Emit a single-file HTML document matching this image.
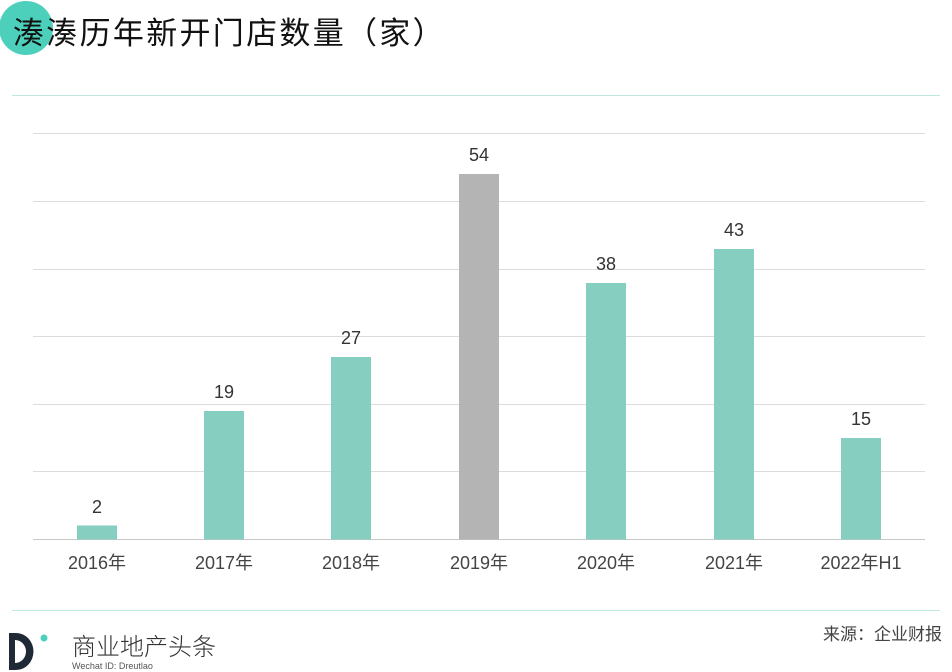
<!DOCTYPE html>
<html><head><meta charset="utf-8"><style>
body{margin:0;width:952px;height:672px;background:#fff;position:relative;overflow:hidden;font-family:"Liberation Sans","Noto Sans CJK SC",sans-serif}
.a{position:absolute}
</style></head><body>
<div class="a" style="left:-1px;top:1px;width:54px;height:54px;border-radius:50%;background:#4dd0bb"></div>
<div class="a" style="left:13px;top:8px;font-size:31px;color:#111;letter-spacing:2.3px;white-space:nowrap">湊湊历年新开门店数量（家）</div>
<div class="a" style="left:12px;top:95px;width:928px;height:1px;background:#bfe9e0"></div>
<div class="a" style="left:12px;top:610px;width:928px;height:1px;background:#bfe9e0"></div>
<svg class="a" style="left:0;top:0" width="952" height="672">
<g stroke="#dcdcdc" stroke-width="1">
<line x1="33" x2="925" y1="133.5" y2="133.5"/><line x1="33" x2="925" y1="201.5" y2="201.5"/>
<line x1="33" x2="925" y1="269.5" y2="269.5"/><line x1="33" x2="925" y1="336.5" y2="336.5"/>
<line x1="33" x2="925" y1="404.5" y2="404.5"/><line x1="33" x2="925" y1="471.5" y2="471.5"/>
<line x1="33" x2="925" y1="539.5" y2="539.5" stroke="#c8c8c8"/>
</g>
<g font-family="Liberation Sans,Noto Sans CJK SC,sans-serif" font-size="18" fill="#333" text-anchor="middle">
<rect x="77" y="525.5" width="40" height="14" fill="#86cfc0"/><text x="97" y="513">2</text><text x="97" y="569" fill="#444">2016年</text>
<rect x="204" y="411" width="40" height="128.5" fill="#86cfc0"/><text x="224" y="398">19</text><text x="224" y="569" fill="#444">2017年</text>
<rect x="331" y="357" width="40" height="182.5" fill="#86cfc0"/><text x="351" y="344">27</text><text x="351" y="569" fill="#444">2018年</text>
<rect x="459" y="174" width="40" height="365.5" fill="#b4b4b4"/><text x="479" y="161">54</text><text x="479" y="569" fill="#444">2019年</text>
<rect x="586" y="283" width="40" height="256.5" fill="#86cfc0"/><text x="606" y="270">38</text><text x="606" y="569" fill="#444">2020年</text>
<rect x="714" y="249" width="40" height="290.5" fill="#86cfc0"/><text x="734" y="236">43</text><text x="734" y="569" fill="#444">2021年</text>
<rect x="841" y="438" width="40" height="101.5" fill="#86cfc0"/><text x="861" y="425">15</text><text x="861" y="569" fill="#444">2022年H1</text>
</g>
<path d="M9 633 h7 a17 18 0 0 1 0 37 h-7 z M15 640 v23 a11 11.5 0 0 0 0 -23 z" fill="#1f2a36" fill-rule="evenodd"/>
<circle cx="44" cy="638" r="3.5" fill="#4dd0bb"/>
<text x="72" y="655" font-family="Noto Sans CJK SC,sans-serif" font-size="24" font-weight="300" fill="#333">商业地产头条</text>
<text x="72" y="669" font-family="Liberation Sans,sans-serif" font-size="9" fill="#555">Wechat ID: Dreutlao</text>
<text x="942" y="640" text-anchor="end" font-family="Liberation Sans,Noto Sans CJK SC,sans-serif" font-size="17" fill="#444">来源：企业财报</text>
</svg>
</body></html>
